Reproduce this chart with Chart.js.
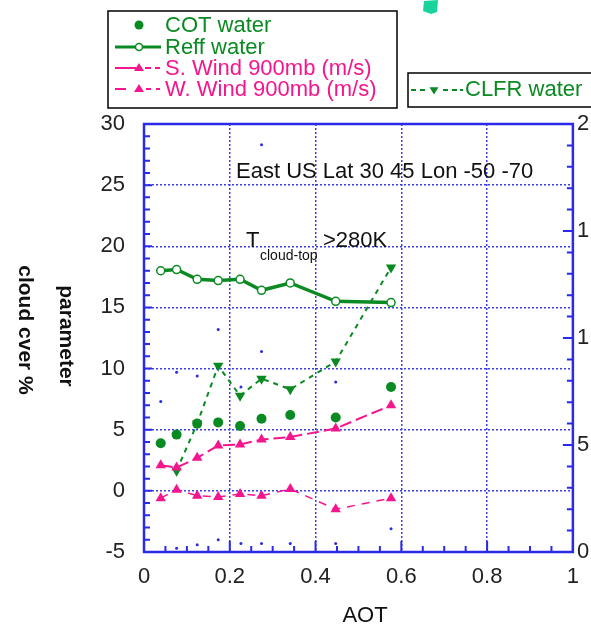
<!DOCTYPE html>
<html>
<head>
<meta charset="utf-8">
<script src="https://cdn.jsdelivr.net/npm/chart.js@4.4.1/dist/chart.umd.min.js"></script>
<style>
  body { margin: 0; background: #fff; }
  canvas { display: block; }
</style>
</head>
<body>
<canvas id="aotChart" width="591" height="628"></canvas>
<script>
// AOT positions of the samples
const aot = [0.039, 0.076, 0.124, 0.173, 0.224, 0.274, 0.341, 0.447, 0.576];
const cotWater = [3.9, 4.6, 5.5, 5.6, 5.3, 5.9, 6.2, 6.0, 8.5];
const reffWater = [18.0, 18.1, 17.3, 17.2, 17.3, 16.4, 17.0, 15.5, 15.4];
const sWind = [2.1, 1.9, 2.7, 3.7, 3.8, 4.2, 4.4, 5.1, 7.0];
const wWind = [-0.6, 0.1, -0.4, -0.5, -0.25, -0.4, 0.15, -1.5, -0.6];
// CLFR (right axis) starts at the second AOT bin
const clfrAot = [0.076, 0.124, 0.173, 0.224, 0.274, 0.341, 0.447, 0.576];
const clfrWater = [3.8, 6.0, 8.7, 7.3, 8.1, 7.6, 8.9, 13.3];
// small blue dots
const dotAot = [0.039, 0.076, 0.124, 0.173, 0.226, 0.274, 0.274, 0.447, 0.076, 0.124, 0.173, 0.226, 0.274, 0.341, 0.447, 0.576];
const dotVal = [7.3, 9.7, 9.4, 13.2, 8.5, 11.4, 28.3, 8.9, -4.7, -4.4, -4.0, -4.3, -4.3, -4.3, -4.3, -3.1];

const leftTicks = [-5, 0, 5, 10, 15, 20, 25, 30];
const rightTicks = [0, 5, 10, 15, 20];
const aotTicks = [0, 0.2, 0.4, 0.6, 0.8, 1];

const GREEN = '#0a8a22';
const PINK = '#f5158c';
const BLUE = '#2a2ae8';
const FONT = '"Liberation Sans", Arial, sans-serif';

function pts(xs, ys) {
    return xs.map((x, i) => ({ x: x, y: ys[i] }));
}

function tri(ctx, x, y, r, down) {
    ctx.beginPath();
    if (down) {
        ctx.moveTo(x - r, y - r * 0.6);
        ctx.lineTo(x + r, y - r * 0.6);
        ctx.lineTo(x, y + r);
    } else {
        ctx.moveTo(x - r, y + r * 0.6);
        ctx.lineTo(x + r, y + r * 0.6);
        ctx.lineTo(x, y - r);
    }
    ctx.closePath();
    ctx.fill();
}

const decor = {
    id: 'decor',
    afterDraw(chart) {
        const ctx = chart.ctx;
        const a = chart.chartArea;
        const xs = chart.scales.x, ys = chart.scales.y, y2 = chart.scales.y2;
        ctx.save();

        // frame
        ctx.strokeStyle = BLUE;
        ctx.lineWidth = 2.5;
        ctx.strokeRect(a.left, a.top, a.right - a.left, a.bottom - a.top);

        // inward ticks
        ctx.lineWidth = 2;
        ctx.beginPath();
        for (let v = -5; v <= 30; v++) {
            const py = ys.getPixelForValue(v);
            const len = v % 5 === 0 ? 8 : 6;
            ctx.moveTo(a.left, py); ctx.lineTo(a.left + len, py);
        }
        for (let v = 0; v <= 20; v++) {
            const py = y2.getPixelForValue(v);
            const len = v % 5 === 0 ? 10 : 6;
            ctx.moveTo(a.right, py); ctx.lineTo(a.right - len, py);
        }
        for (let i = 0; i <= 20; i++) {
            const px = xs.getPixelForValue(i * 0.05);
            const len = i % 4 === 0 ? 11 : 6;
            ctx.moveTo(px, a.bottom); ctx.lineTo(px, a.bottom - len);
        }
        ctx.stroke();

        // axis titles
        ctx.fillStyle = '#111';
        ctx.textAlign = 'center';
        ctx.textBaseline = 'middle';
        ctx.font = '22px ' + FONT;
        ctx.fillText('AOT', 365, 616);
        ctx.font = 'bold 21px ' + FONT;
        ctx.save();
        ctx.translate(25, 330);
        ctx.rotate(Math.PI / 2);
        ctx.fillText('cloud cver %', 0, 0);
        ctx.restore();
        ctx.save();
        ctx.translate(66, 336);
        ctx.rotate(Math.PI / 2);
        ctx.fillText('parameter', 0, 0);
        ctx.restore();

        // annotations
        ctx.textAlign = 'left';
        ctx.textBaseline = 'alphabetic';
        ctx.font = '22px ' + FONT;
        ctx.fillText('East US Lat 30 45 Lon -50 -70', 236, 178);
        ctx.fillText('T', 246, 247);
        ctx.fillText('>280K', 323, 247);
        ctx.font = '14px ' + FONT;
        ctx.fillText('cloud-top', 260, 260);

        // legend box 1
        ctx.strokeStyle = '#000';
        ctx.lineWidth = 1.5;
        ctx.strokeRect(108, 11, 289, 97);
        ctx.font = '22px ' + FONT;
        ctx.textBaseline = 'middle';
        const ds = chart.data.datasets;
        const rows = [25, 47, 68, 89];
        // COT
        ctx.fillStyle = GREEN;
        ctx.beginPath(); ctx.arc(139, rows[0], 4.5, 0, Math.PI * 2); ctx.fill();
        // Reff
        ctx.strokeStyle = GREEN; ctx.lineWidth = 3;
        ctx.beginPath(); ctx.moveTo(115, rows[1]); ctx.lineTo(161, rows[1]); ctx.stroke();
        ctx.fillStyle = '#fff'; ctx.lineWidth = 1.5;
        ctx.beginPath(); ctx.arc(139, rows[1], 3.5, 0, Math.PI * 2); ctx.fill(); ctx.stroke();
        // S. wind
        ctx.strokeStyle = PINK; ctx.fillStyle = PINK; ctx.lineWidth = 2;
        ctx.beginPath(); ctx.moveTo(115, rows[2]); ctx.lineTo(136, rows[2]);
        ctx.moveTo(145, rows[2]); ctx.lineTo(151, rows[2]);
        ctx.moveTo(155, rows[2]); ctx.lineTo(160, rows[2]); ctx.stroke();
        tri(ctx, 139, rows[2], 5, false);
        // W. wind
        ctx.beginPath(); ctx.moveTo(115, rows[3]); ctx.lineTo(126, rows[3]);
        ctx.moveTo(146, rows[3]); ctx.lineTo(151, rows[3]);
        ctx.moveTo(156, rows[3]); ctx.lineTo(160, rows[3]); ctx.stroke();
        tri(ctx, 139, rows[3], 5, false);
        const colors = [GREEN, GREEN, PINK, PINK];
        for (let i = 0; i < 4; i++) {
            ctx.fillStyle = colors[i];
            ctx.fillText(ds[i].label, 165, rows[i] + 1);
        }

        // legend box 2
        ctx.strokeStyle = '#000'; ctx.lineWidth = 1.5;
        ctx.strokeRect(408, 73, 200, 34);
        ctx.strokeStyle = GREEN; ctx.fillStyle = GREEN; ctx.lineWidth = 2;
        ctx.beginPath();
        [[411, 416], [420, 425], [443, 448], [452, 457], [460, 463]].forEach(s => {
            ctx.moveTo(s[0], 90); ctx.lineTo(s[1], 90);
        });
        ctx.stroke();
        tri(ctx, 434, 90, 4.5, true);
        ctx.fillText(ds[4].label, 465, 90);

        // stray mark at the top
        ctx.fillStyle = '#18d49c';
        ctx.beginPath();
        ctx.moveTo(424, 1); ctx.lineTo(438, 0); ctx.lineTo(437, 12); ctx.lineTo(431, 14); ctx.lineTo(423, 11);
        ctx.closePath(); ctx.fill();

        ctx.restore();
    }
};

const majorGrid = (vals) => (c) => (c.tick && vals.includes(c.tick.value)) ? '#3c3cf0' : 'rgba(0,0,0,0)';

new Chart(document.getElementById('aotChart').getContext('2d'), {
    type: 'line',
    data: {
        datasets: [
            {
                label: 'COT water', data: pts(aot, cotWater), yAxisID: 'y',
                showLine: false, pointRadius: 5, pointBackgroundColor: GREEN, pointBorderWidth: 0
            },
            {
                label: 'Reff water', data: pts(aot, reffWater), yAxisID: 'y',
                borderColor: GREEN, borderWidth: 3.5, pointRadius: 4,
                pointBackgroundColor: '#fff', pointBorderColor: GREEN, pointBorderWidth: 1.5
            },
            {
                label: 'S. Wind 900mb (m/s)', data: pts(aot, sWind), yAxisID: 'y',
                borderColor: PINK, borderWidth: 2, borderDash: [12, 5],
                pointStyle: 'triangle', pointRadius: 6, pointBackgroundColor: PINK, pointBorderWidth: 0
            },
            {
                label: 'W. Wind 900mb (m/s)', data: pts(aot, wWind), yAxisID: 'y',
                borderColor: PINK, borderWidth: 1.5, borderDash: [8, 7],
                pointStyle: 'triangle', pointRadius: 6, pointBackgroundColor: PINK, pointBorderWidth: 0
            },
            {
                label: 'CLFR water', data: pts(clfrAot, clfrWater), yAxisID: 'y2',
                borderColor: GREEN, borderWidth: 2, borderDash: [5, 5],
                pointStyle: 'triangle', rotation: 180, pointRadius: 6,
                pointBackgroundColor: GREEN, pointBorderWidth: 0
            },
            {
                label: 'dots', data: pts(dotAot, dotVal), yAxisID: 'y',
                showLine: false, pointRadius: 1.5, pointBackgroundColor: BLUE, pointBorderWidth: 0
            }
        ]
    },
    options: {
        responsive: false,
        animation: false,
        layout: { padding: { top: 124, left: 0, right: 0, bottom: 0 } },
        plugins: { legend: { display: false }, tooltip: { enabled: false } },
        scales: {
            x: {
                type: 'linear', position: 'bottom', min: 0, max: 1,
                afterFit: (s) => { s.height = 76; },
                afterBuildTicks: (s) => { s.ticks = aotTicks.map(v => ({ value: v })); },
                ticks: {
                    color: '#222', font: { family: FONT, size: 22 }, padding: 12,
                    callback: (v) => String(+v.toFixed(1))
                },
                grid: { color: majorGrid([0.2, 0.4, 0.6, 0.8]), lineWidth: 1.5, drawTicks: false },
                border: { display: false, dash: [2, 2] }
            },
            y: {
                position: 'left', min: -5, max: 30,
                afterFit: (s) => { s.width = 144; },
                afterBuildTicks: (s) => { s.ticks = leftTicks.map(v => ({ value: v })); },
                ticks: { color: '#222', font: { family: FONT, size: 22 }, padding: 19 },
                grid: { color: majorGrid([0, 5, 10, 15, 20, 25]), lineWidth: 1.5, drawTicks: false },
                border: { display: false, dash: [2, 2] }
            },
            y2: {
                position: 'right', min: 0, max: 20,
                afterFit: (s) => { s.width = 17; },
                afterBuildTicks: (s) => { s.ticks = rightTicks.map(v => ({ value: v })); },
                ticks: { color: '#222', font: { family: FONT, size: 22 }, padding: 4 },
                grid: { display: false, drawTicks: false },
                border: { display: false }
            }
        }
    },
    plugins: [decor]
});
</script>
</body>
</html>
